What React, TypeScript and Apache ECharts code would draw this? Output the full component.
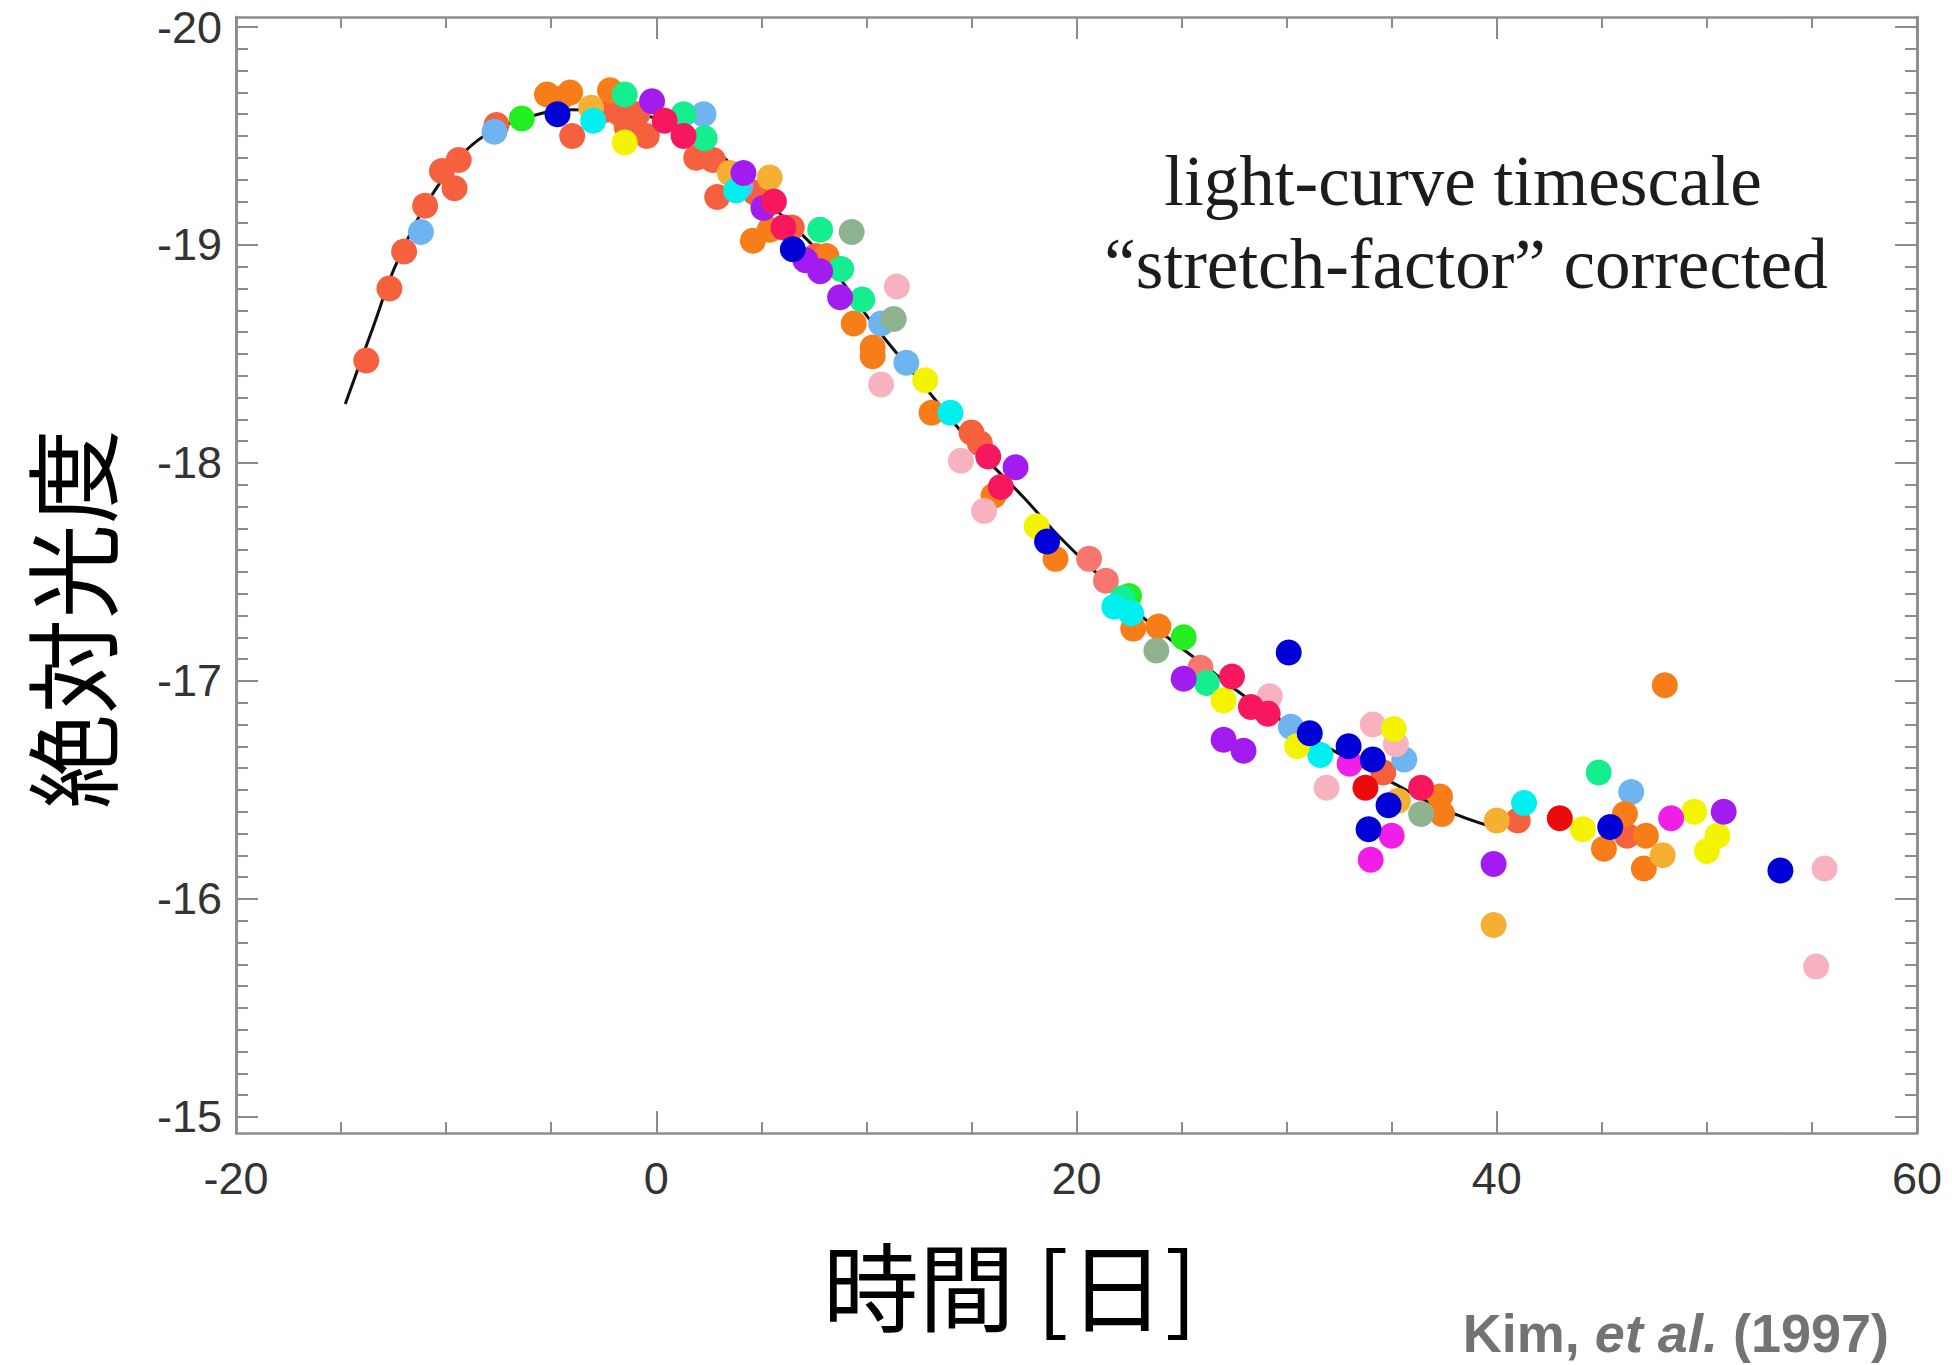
import React, { useEffect, useRef } from "react";
import * as echarts from "echarts";

// ---- axis ticks ----
const xMajorTicks = [-20, 0, 20, 40, 60];
const yMajorTicks = [-20, -19, -18, -17, -16, -15];

// ---- template light curve (black line) ----
const curve: [number, number][] = [
  [-14.8, -18.27], [-13.45, -18.63], [-12.3, -18.93], [-10.4, -19.27], [-8.5, -19.48],
  [-6.3, -19.58], [-4.0, -19.62], [-1.6, -19.61], [0.8, -19.55], [3.1, -19.41],
  [5.5, -19.18], [7.9, -18.95], [10.3, -18.64], [12.6, -18.37], [15.0, -18.09],
  [17.5, -17.84], [19.2, -17.66], [20.9, -17.5], [23.3, -17.28], [25.7, -17.1],
  [28.0, -16.93], [30.4, -16.78], [32.8, -16.65], [35.1, -16.53], [37.5, -16.41], [39.8, -16.33],
];

// ---- supernova photometry, grouped by marker colour ----
const tomato: [number, number][] = [
  [-13.8, -18.47], [-12.7, -18.8], [-12.0, -18.97], [-11.0, -19.18], [-10.2, -19.34], [-9.6, -19.26],
  [-9.4, -19.39], [-7.6, -19.55], [-4.6, -19.67], [-4.0, -19.5], [-2.35, -19.62], [-1.7, -19.6],
  [-0.9, -19.6], [-1.4, -19.54], [-0.45, -19.5], [1.9, -19.4], [2.7, -19.39], [2.9, -19.22],
  [4.7, -19.24], [6.45, -19.08], [7.6, -18.95], [15.0, -18.14], [15.4, -18.09], [34.6, -16.58],
  [41.0, -16.36], [46.2, -16.29],
];
const salmon: [number, number][] = [[20.6, -17.56], [21.4, -17.46], [25.9, -17.06]];
const lightBlue: [number, number][] = [
  [-11.2, -19.06], [-7.7, -19.52], [2.25, -19.6], [4.0, -19.27], [10.7, -18.64], [11.9, -18.46],
  [30.2, -16.79], [35.6, -16.64], [46.4, -16.49],
];
const green: [number, number][] = [[-6.4, -19.58], [22.5, -17.39], [25.1, -17.2]];
const blue: [number, number][] = [
  [-4.7, -19.6], [6.5, -18.98], [18.6, -17.64], [30.1, -17.13], [31.1, -16.76], [32.95, -16.7],
  [34.1, -16.64], [34.85, -16.43], [33.9, -16.32], [45.4, -16.33], [53.5, -16.13],
];
const orange: [number, number][] = [
  [-5.2, -19.69], [-4.1, -19.7], [-2.2, -19.71], [4.6, -19.02], [5.4, -19.07], [8.1, -18.95],
  [9.4, -18.64], [10.3, -18.53], [10.3, -18.49], [13.1, -18.23], [16.05, -17.85], [19.0, -17.56],
  [22.7, -17.24], [23.9, -17.25], [37.3, -16.47], [37.4, -16.39], [46.1, -16.39], [47.1, -16.29],
  [45.1, -16.23], [47.0, -16.14], [48.0, -16.98],
];
const crimson: [number, number][] = [
  [0.4, -19.57], [1.3, -19.5], [5.6, -19.2], [6.05, -19.08], [15.8, -18.03], [16.4, -17.89],
  [27.4, -17.02], [28.3, -16.88], [29.1, -16.85], [36.4, -16.51],
];
const purple: [number, number][] = [
  [-0.2, -19.66], [4.15, -19.33], [5.1, -19.17], [7.1, -18.93], [7.8, -18.88], [8.75, -18.76],
  [17.1, -17.98], [25.1, -17.01], [27.0, -16.73], [27.95, -16.68], [39.85, -16.16], [50.8, -16.4],
];
const magenta: [number, number][] = [[33.0, -16.62], [35.0, -16.29], [34.0, -16.18], [48.3, -16.37]];
const yellow: [number, number][] = [
  [-1.5, -19.47], [12.8, -18.38], [18.1, -17.71], [27.0, -16.91], [30.5, -16.7], [35.1, -16.78],
  [44.1, -16.32], [49.4, -16.4], [50.5, -16.29], [50.0, -16.22],
];
const cyan: [number, number][] = [
  [-3.0, -19.57], [3.8, -19.25], [14.0, -18.23], [21.8, -17.34], [22.6, -17.31], [31.6, -16.66],
  [41.3, -16.44],
];
const springGreen: [number, number][] = [
  [-1.5, -19.69], [1.3, -19.6], [2.3, -19.49], [7.8, -19.07], [8.8, -18.89], [9.8, -18.75],
  [22.2, -17.38], [26.2, -16.99], [44.85, -16.58],
];
const lightPink: [number, number][] = [
  [11.45, -18.81], [10.7, -18.36], [14.5, -18.01], [15.6, -17.78], [29.2, -16.93], [31.9, -16.51],
  [34.1, -16.8], [35.2, -16.71], [55.6, -16.14], [55.2, -15.69],
];
const greyGreen: [number, number][] = [[9.3, -19.06], [11.3, -18.66], [23.8, -17.14], [36.4, -16.39]];
const gold: [number, number][] = [
  [-3.1, -19.63], [3.5, -19.33], [5.4, -19.31], [35.3, -16.45], [40.0, -16.36], [39.85, -15.88],
  [47.9, -16.2],
];
const red: [number, number][] = [[33.75, -16.51], [43.0, -16.37]];

const groups: { data: [number, number][]; color: string }[] = [
  { data: tomato, color: "#f5613f" },
  { data: salmon, color: "#f77670" },
  { data: lightBlue, color: "#6db4f0" },
  { data: green, color: "#22ee22" },
  { data: orange, color: "#f77d18" },
  { data: greyGreen, color: "#8fb38f" },
  { data: lightPink, color: "#f8b2bf" },
  { data: gold, color: "#f5b033" },
  { data: springGreen, color: "#14ee8e" },
  { data: cyan, color: "#00f0f0" },
  { data: yellow, color: "#f4f400" },
  { data: purple, color: "#a21cf0" },
  { data: magenta, color: "#f01ee6" },
  { data: crimson, color: "#f7175f" },
  { data: red, color: "#ea0c0c" },
  { data: blue, color: "#0000d6" },
];

const AXIS_COLOR = "#8c8c8c";
const TICK_FONT = "'Liberation Sans', Arial, sans-serif";

export default function App() {
  const ref = useRef<HTMLDivElement>(null);

  useEffect(() => {
    if (!ref.current) return;
    const chart = echarts.init(ref.current, undefined, { renderer: "svg" });

    const yMinor: number[] = [];
    for (let i = 0; i <= 50; i++) yMinor.push(Math.round((-20 + i * 0.1) * 10) / 10);

    const yMin = -20.046;
    const yMax = -14.926;
    const lineStyle = { color: AXIS_COLOR, width: 2.5 };

    const xBase = {
      type: "value" as const,
      min: -20,
      max: 60,
      interval: 20,
      splitLine: { show: false },
      minorSplitLine: { show: false },
      axisLine: { show: true, onZero: false, lineStyle },
      axisTick: { show: true, inside: true, length: 22, lineStyle: { color: AXIS_COLOR, width: 2 } },
      minorTick: { show: true, splitNumber: 4, length: 11, lineStyle: { color: AXIS_COLOR, width: 2 } },
    };

    const yBase = {
      type: "value" as const,
      inverse: true,
      min: yMin,
      max: yMax,
      splitLine: { show: false },
      axisLine: { show: true, onZero: false, lineStyle },
    };

    chart.setOption({
      animation: false,
      backgroundColor: "#ffffff",
      grid: { left: 236, right: 35, top: 17, bottom: 232, containLabel: false },
      xAxis: [
        {
          ...xBase,
          position: "bottom",
          axisLabel: {
            show: true,
            fontSize: 45,
            color: "#333333",
            fontFamily: TICK_FONT,
            margin: 23,
            customValues: xMajorTicks,
          },
        },
        { ...xBase, position: "top", axisLabel: { show: false } },
      ],
      yAxis: [
        {
          ...yBase,
          position: "left",
          axisTick: {
            show: true,
            inside: true,
            length: 22,
            customValues: yMajorTicks,
            lineStyle: { color: AXIS_COLOR, width: 2 },
          },
          axisLabel: {
            show: true,
            fontSize: 45,
            color: "#333333",
            fontFamily: TICK_FONT,
            margin: 14,
            customValues: yMajorTicks,
          },
        },
        {
          ...yBase,
          position: "left",
          axisTick: {
            show: true,
            inside: true,
            length: 12,
            customValues: yMinor,
            lineStyle: { color: AXIS_COLOR, width: 2 },
          },
          axisLabel: { show: false },
        },
        {
          ...yBase,
          position: "right",
          axisTick: {
            show: true,
            inside: true,
            length: 22,
            customValues: yMajorTicks,
            lineStyle: { color: AXIS_COLOR, width: 2 },
          },
          axisLabel: { show: false },
        },
        {
          ...yBase,
          position: "right",
          axisTick: {
            show: true,
            inside: true,
            length: 12,
            customValues: yMinor,
            lineStyle: { color: AXIS_COLOR, width: 2 },
          },
          axisLabel: { show: false },
        },
      ],
      series: [
        {
          type: "line",
          data: curve,
          smooth: 0.4,
          showSymbol: false,
          symbol: "none",
          lineStyle: { color: "#111111", width: 3 },
          z: 1,
          silent: true,
        },
        ...groups.map((g) => ({
          type: "scatter",
          data: g.data,
          symbol: "circle",
          symbolSize: 26,
          itemStyle: { color: g.color, opacity: 1 },
          z: 2,
          silent: true,
        })),
      ],
      graphic: [
        {
          type: "text",
          x: 1463,
          y: 181,
          style: {
            text: "light-curve timescale",
            font: "71px 'Liberation Serif', 'Times New Roman', serif",
            fill: "#1c1c1c",
            textAlign: "center",
            textVerticalAlign: "middle",
          },
        },
        {
          type: "text",
          x: 1466,
          y: 264,
          style: {
            text: "\u201cstretch-factor\u201d corrected",
            font: "71px 'Liberation Serif', 'Times New Roman', serif",
            fill: "#1c1c1c",
            textAlign: "center",
            textVerticalAlign: "middle",
          },
        },
        {
          type: "text",
          x: 68,
          y: 619,
          rotation: Math.PI / 2,
          style: {
            text: "絶対光度",
            font: "95px 'Noto Sans CJK JP', sans-serif",
            fill: "#000000",
            textAlign: "center",
            textVerticalAlign: "middle",
          },
        },
        {
          type: "text",
          x: 1010,
          y: 1282,
          style: {
            text: "時間 [日]",
            font: "96px 'Noto Sans CJK JP', sans-serif",
            fill: "#000000",
            textAlign: "center",
            textVerticalAlign: "middle",
          },
        },
        {
          type: "text",
          x: 1889,
          y: 1333,
          style: {
            text: "{a|Kim, }{b|et al.}{a| (1997)}",
            textAlign: "right",
            textVerticalAlign: "middle",
            rich: {
              a: {
                fontFamily: TICK_FONT,
                fontSize: 54,
                fontWeight: "bold",
                fill: "#737373",
                color: "#737373",
              },
              b: {
                fontFamily: TICK_FONT,
                fontSize: 54,
                fontWeight: "bold",
                fontStyle: "italic",
                fill: "#737373",
                color: "#737373",
              },
            },
          },
        },
      ],
    });

    return () => chart.dispose();
  }, []);

  return (
    <div
      ref={ref}
      style={{ position: "fixed", left: 0, top: 0, width: 1952, height: 1365, background: "#ffffff" }}
    />
  );
}
